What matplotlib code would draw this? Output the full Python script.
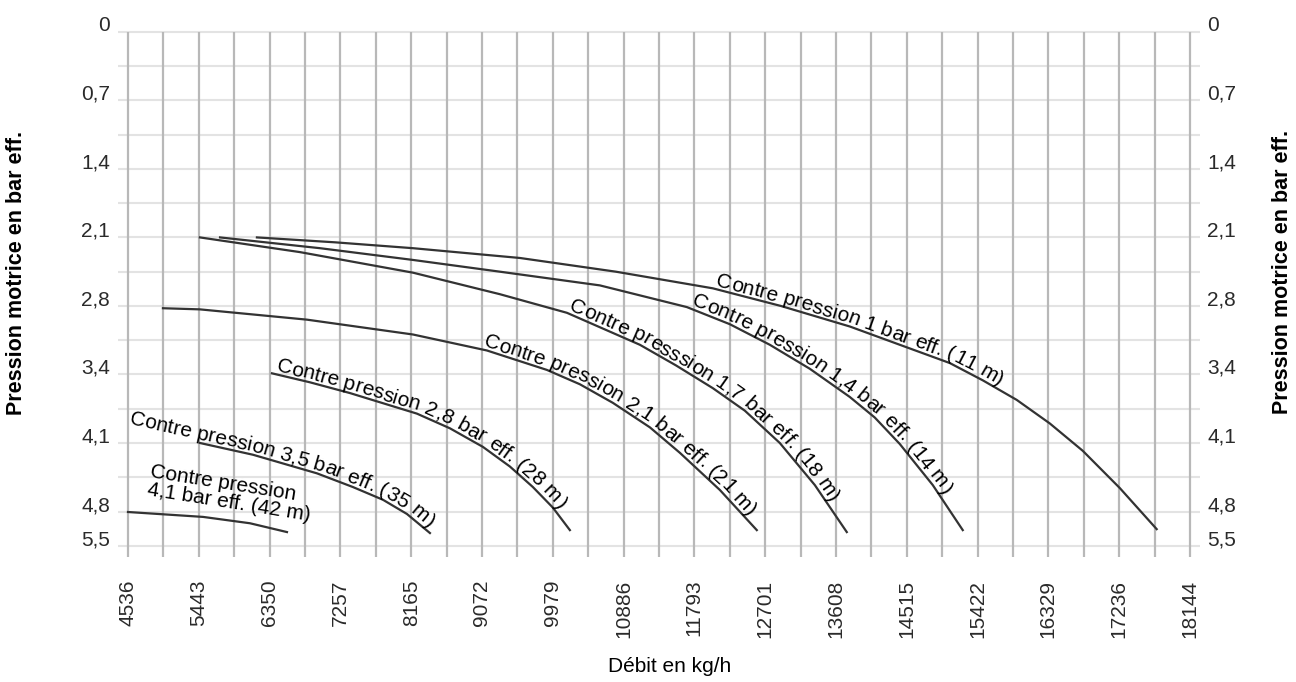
import numpy as np
import matplotlib
matplotlib.use('Agg')
import matplotlib.pyplot as plt
import matplotlib.transforms as mtransforms
from matplotlib.font_manager import FontProperties, findfont, get_font

plt.rcParams['font.family'] = ['Liberation Sans', 'DejaVu Sans']

# --- axes ---
x_ticks = [4536, 5443, 6350, 7257, 8165, 9072, 9979, 10886, 11793,
           12701, 13608, 14515, 15422, 16329, 17236, 18144]
y_ticks = [0, 0.7, 1.4, 2.1, 2.8, 3.4, 4.1, 4.8, 5.5]
y_labels = ['0', '0,7', '1,4', '2,1', '2,8', '3,4', '4,1', '4,8', '5,5']

# --- courbes de contre pression (débit kg/h, pression motrice bar) ---
cp11_x = [6188, 7188, 8187, 9558, 10787, 12030, 12901, 13785, 14425, 15066,
          15489, 15924, 16347, 16770, 17244, 17717]
cp11_y = [2.10, 2.15, 2.21, 2.31, 2.45, 2.62, 2.80, 2.98, 3.14, 3.30,
          3.46, 3.66, 3.90, 4.18, 4.56, 5.16]

cp14_x = [5715, 6996, 8187, 9301, 10582, 11697, 12248, 12760, 13272, 13785,
          14105, 14425, 14848, 15232]
cp14_y = [2.10, 2.21, 2.33, 2.45, 2.59, 2.81, 2.96, 3.14, 3.35, 3.63,
          3.84, 4.11, 4.53, 5.18]

cp18_x = [5458, 6739, 8187, 9301, 10160, 11095, 11556, 12030, 12440, 12888,
          13337, 13746]
cp18_y = [2.10, 2.25, 2.46, 2.68, 2.86, 3.14, 3.32, 3.54, 3.77, 4.10,
          4.53, 5.22]

cp21_x = [4984, 5458, 6829, 8187, 9135, 9903, 10326, 10749, 11223, 11607,
          12120, 12593]
cp21_y = [2.82, 2.83, 2.92, 3.05, 3.19, 3.36, 3.50, 3.69, 3.94, 4.20,
          4.58, 5.18]

cp28_x = [6381, 6867, 7380, 8238, 8661, 9084, 9429, 9724, 9980, 10198]
cp28_y = [3.39, 3.48, 3.59, 3.80, 3.95, 4.14, 4.34, 4.55, 4.76, 5.18]

cp35_x = [5458, 6137, 6957, 7418, 7803, 8110, 8405]
cp35_y = [4.10, 4.22, 4.41, 4.55, 4.68, 4.85, 5.24]

cp42_x = [4536, 5497, 6099, 6573]
cp42_y = [4.81, 4.91, 5.04, 5.22]

courbes = [
    (cp11_x, cp11_y, 'Contre pression 1 bar eff. (11 m)', 12050),
    (cp14_x, cp14_y, 'Contre pression 1,4 bar eff. (14 m)', 11735),
    (cp18_x, cp18_y, 'Contre presssion 1,7 bar eff. (18 m)', 10160),
    (cp21_x, cp21_y, 'Contre pression 2,1 bar eff. (21 m)', 9071),
    (cp28_x, cp28_y, 'Contre pression 2,8 bar eff. (28 m)', 6419),
    (cp35_x, cp35_y, 'Contre pression 3,5 bar eff. (35 m)', 4536),
]

# échelle verticale du diagramme : pas égaux entre graduations, dernier pas moitié
y_pos = [-1, 0, 1, 2, 3, 4, 5, 6, 7, 7.5, 8]
y_val = [-0.7, 0, 0.7, 1.4, 2.1, 2.8, 3.4, 4.1, 4.8, 5.5, 6.2]


def fwd(v):
    return np.interp(v, y_val, y_pos)


def inv(p):
    return np.interp(p, y_pos, y_val)


FS = 15
fig = plt.figure(figsize=(12.96, 6.82), dpi=100)
ax = fig.add_axes([118 / 1296, 1 - 559 / 682, 1082 / 1296, 534 / 682])
ax.set_yscale('function', functions=(fwd, inv))
ax.set_xlim(4536 - 128, 18144 + 128)
ax.set_ylim(inv(7.693), inv(-0.1))

# grille
ax.hlines(inv(np.arange(0, 7.51, 0.5)), 4536 - 128, 18144 + 128,
          color='#e3e3e3', lw=1.5, zorder=1)
ax.vlines(np.arange(4536, 18145, 453.6), 0, inv(7.66),
          color='#b8b8b8', lw=1.6, zorder=1)

for xs, ys, _, _ in courbes:
    ax.plot(xs, ys, color='#333333', lw=1.6, zorder=3)
ax.plot(cp42_x, cp42_y, color='#333333', lw=1.6, zorder=3)

for s in ax.spines.values():
    s.set_visible(False)
ax.set_xticks(x_ticks)
ax.set_xticklabels([str(v) for v in x_ticks], rotation=90, fontsize=FS, color='#2a2a2a')
ax.tick_params(axis='x', length=0, pad=15)
ax.set_yticks([])
ax.yaxis.set_minor_locator(plt.NullLocator())

# graduations verticales des deux côtés (un peu au-dessus des lignes)
ytr = ax.get_yaxis_transform()
left_tr = ytr + mtransforms.ScaledTranslation(-8 / 100, 6 / 100, fig.dpi_scale_trans)
right_tr = ytr + mtransforms.ScaledTranslation(7 / 100, 6 / 100, fig.dpi_scale_trans)
for v, lab in zip(y_ticks, y_labels):
    ax.text(0, v, lab, transform=left_tr, ha='right', va='center',
            fontsize=FS, color='#2a2a2a')
    ax.text(1, v, lab, transform=right_tr, ha='left', va='center',
            fontsize=FS, color='#2a2a2a')


def label_along(xs, ys, text, x_start, lift=3):
    pts = ax.transData.transform(np.column_stack([xs, ys]))
    seg = np.diff(pts, axis=0)
    seglen = np.hypot(seg[:, 0], seg[:, 1])
    cum = np.concatenate([[0], np.cumsum(seglen)])
    x0 = ax.transData.transform((x_start, ys[0]))[0]
    if x0 < pts[0, 0]:
        s0 = -(pts[0, 0] - x0) / (seg[0, 0] / seglen[0])
    else:
        s0 = np.interp(x0, pts[:, 0], cum)
    prop = FontProperties(family='Liberation Sans', size=FS)
    font = get_font(findfont(prop))
    font.set_size(FS, fig.dpi)
    adv = [font.load_char(ord(c)).linearHoriAdvance / 65536 for c in text]
    pos = 0.0
    for ch, a in zip(text, adv):
        s = s0 + pos + a / 2
        pos += a
        if ch == ' ':
            continue
        k = int(np.clip(np.searchsorted(cum, s) - 1, 0, len(seg) - 1))
        d = seg[k] / seglen[k]
        p = pts[k] + d * (s - cum[k])
        n = np.array([-d[1], d[0]])
        q = p + n * lift
        ang = np.degrees(np.arctan2(d[1], d[0]))
        ax.text(q[0], q[1], ch, transform=mtransforms.IdentityTransform(),
                ha='center', va='baseline', rotation=ang, rotation_mode='anchor',
                fontsize=FS, color='black', zorder=4)


for xs, ys, txt, xs0 in courbes:
    label_along(xs, ys, txt, xs0)

ax.text(4843, 4.30, 'Contre pression\n4,1 bar eff. (42 m)', ha='left', va='top',
        rotation=-9, rotation_mode='anchor', fontsize=FS, linespacing=0.95, zorder=4)

fig.text(17 / 1296, 1 - 273 / 682, 'Pression motrice en bar eff.', rotation=90,
         ha='center', va='center', fontsize=15.5, fontweight='bold')
fig.text(1283 / 1296, 1 - 272 / 682, 'Pression motrice en bar eff.', rotation=90,
         ha='center', va='center', fontsize=15.5, fontweight='bold')
fig.text(670 / 1296, 1 - 667 / 682, 'Débit en kg/h', ha='center', va='center', fontsize=FS)

fig.savefig('out.png', dpi=100)
